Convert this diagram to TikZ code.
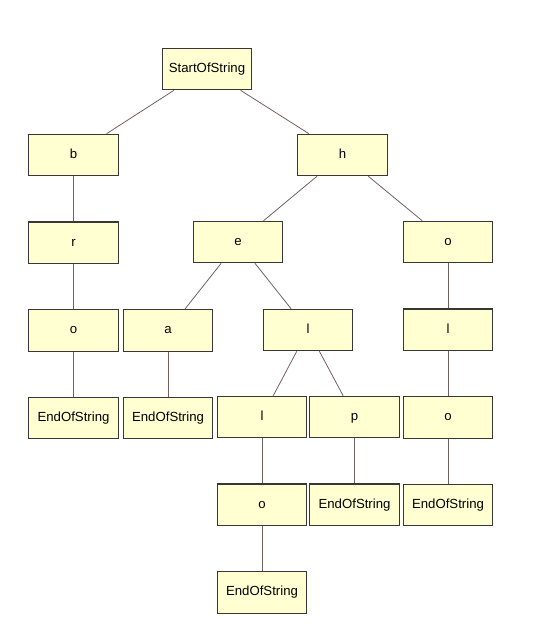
\documentclass[tikz,border=0pt]{standalone}
\usepackage{fontspec}
\setmainfont{Liberation Sans}
\usetikzlibrary{positioning}
\definecolor{boxfill}{RGB}{255,255,210}
\definecolor{boxline}{RGB}{55,55,55}
\definecolor{edge}{RGB}{115,95,95}

\begin{document}
\begin{tikzpicture}[
    x=0.75pt, y=0.75pt,
    node distance=33.9pt and 1.5pt,
    tnode/.style={rectangle, draw=boxline, fill=boxfill, line width=0.9pt,
                  minimum width=67pt, minimum height=31pt, inner sep=0pt,
                  text height=7pt, text depth=2pt,
                  font=\fontsize{9.9}{12}\selectfont},
    link/.style={draw=edge, line width=0.6pt}
]
\useasboundingbox (0,0) rectangle (540,-628);
% root and first level
\node[tnode] (start) at (207,-69) {StartOfString};
\node[tnode] (b) at (73.5,-155) {b};
\node[tnode] (h) at (342.5,-155) {h};
% left branch
\node[tnode, below=of b] (r) {r};
\node[tnode, below=of r] (ro) {o};
\node[tnode, below=of ro] (roend) {EndOfString};
% middle branch
\node[tnode] (e) at (238,-242) {e};
\node[tnode, right=3pt of ro] (a) {a};
\node[tnode, below=of a] (aend) {EndOfString};
\node[tnode] (l) at (308,-330) {l};
\node[tnode] (ll) at (262,-417) {l};
\node[tnode, right=of ll] (p) {p};
\node[tnode, below=of ll] (llo) {o};
\node[tnode, below=of llo] (lloend) {EndOfString};
\node[tnode, below=of p] (pend) {EndOfString};
% right branch
\node[tnode] (ho) at (448,-242) {o};
\node[tnode, below=of ho] (hol) {l};
\node[tnode, below=of hol] (holo) {o};
\node[tnode, below=of holo] (holoend) {EndOfString};
% connectors
\draw[link] (start) -- (b); \draw[link] (start) -- (h);
\draw[link] (b) -- (r); \draw[link] (r) -- (ro); \draw[link] (ro) -- (roend);
\draw[link] (h) -- (e); \draw[link] (h) -- (ho);
\draw[link] (e) -- (a); \draw[link] (a) -- (aend); \draw[link] (e) -- (l);
\draw[link] (l) -- (ll); \draw[link] (l) -- (p);
\draw[link] (ll) -- (llo); \draw[link] (llo) -- (lloend); \draw[link] (p) -- (pend);
\draw[link] (ho) -- (hol); \draw[link] (hol) -- (holo); \draw[link] (holo) -- (holoend);
\end{tikzpicture}
\end{document}
